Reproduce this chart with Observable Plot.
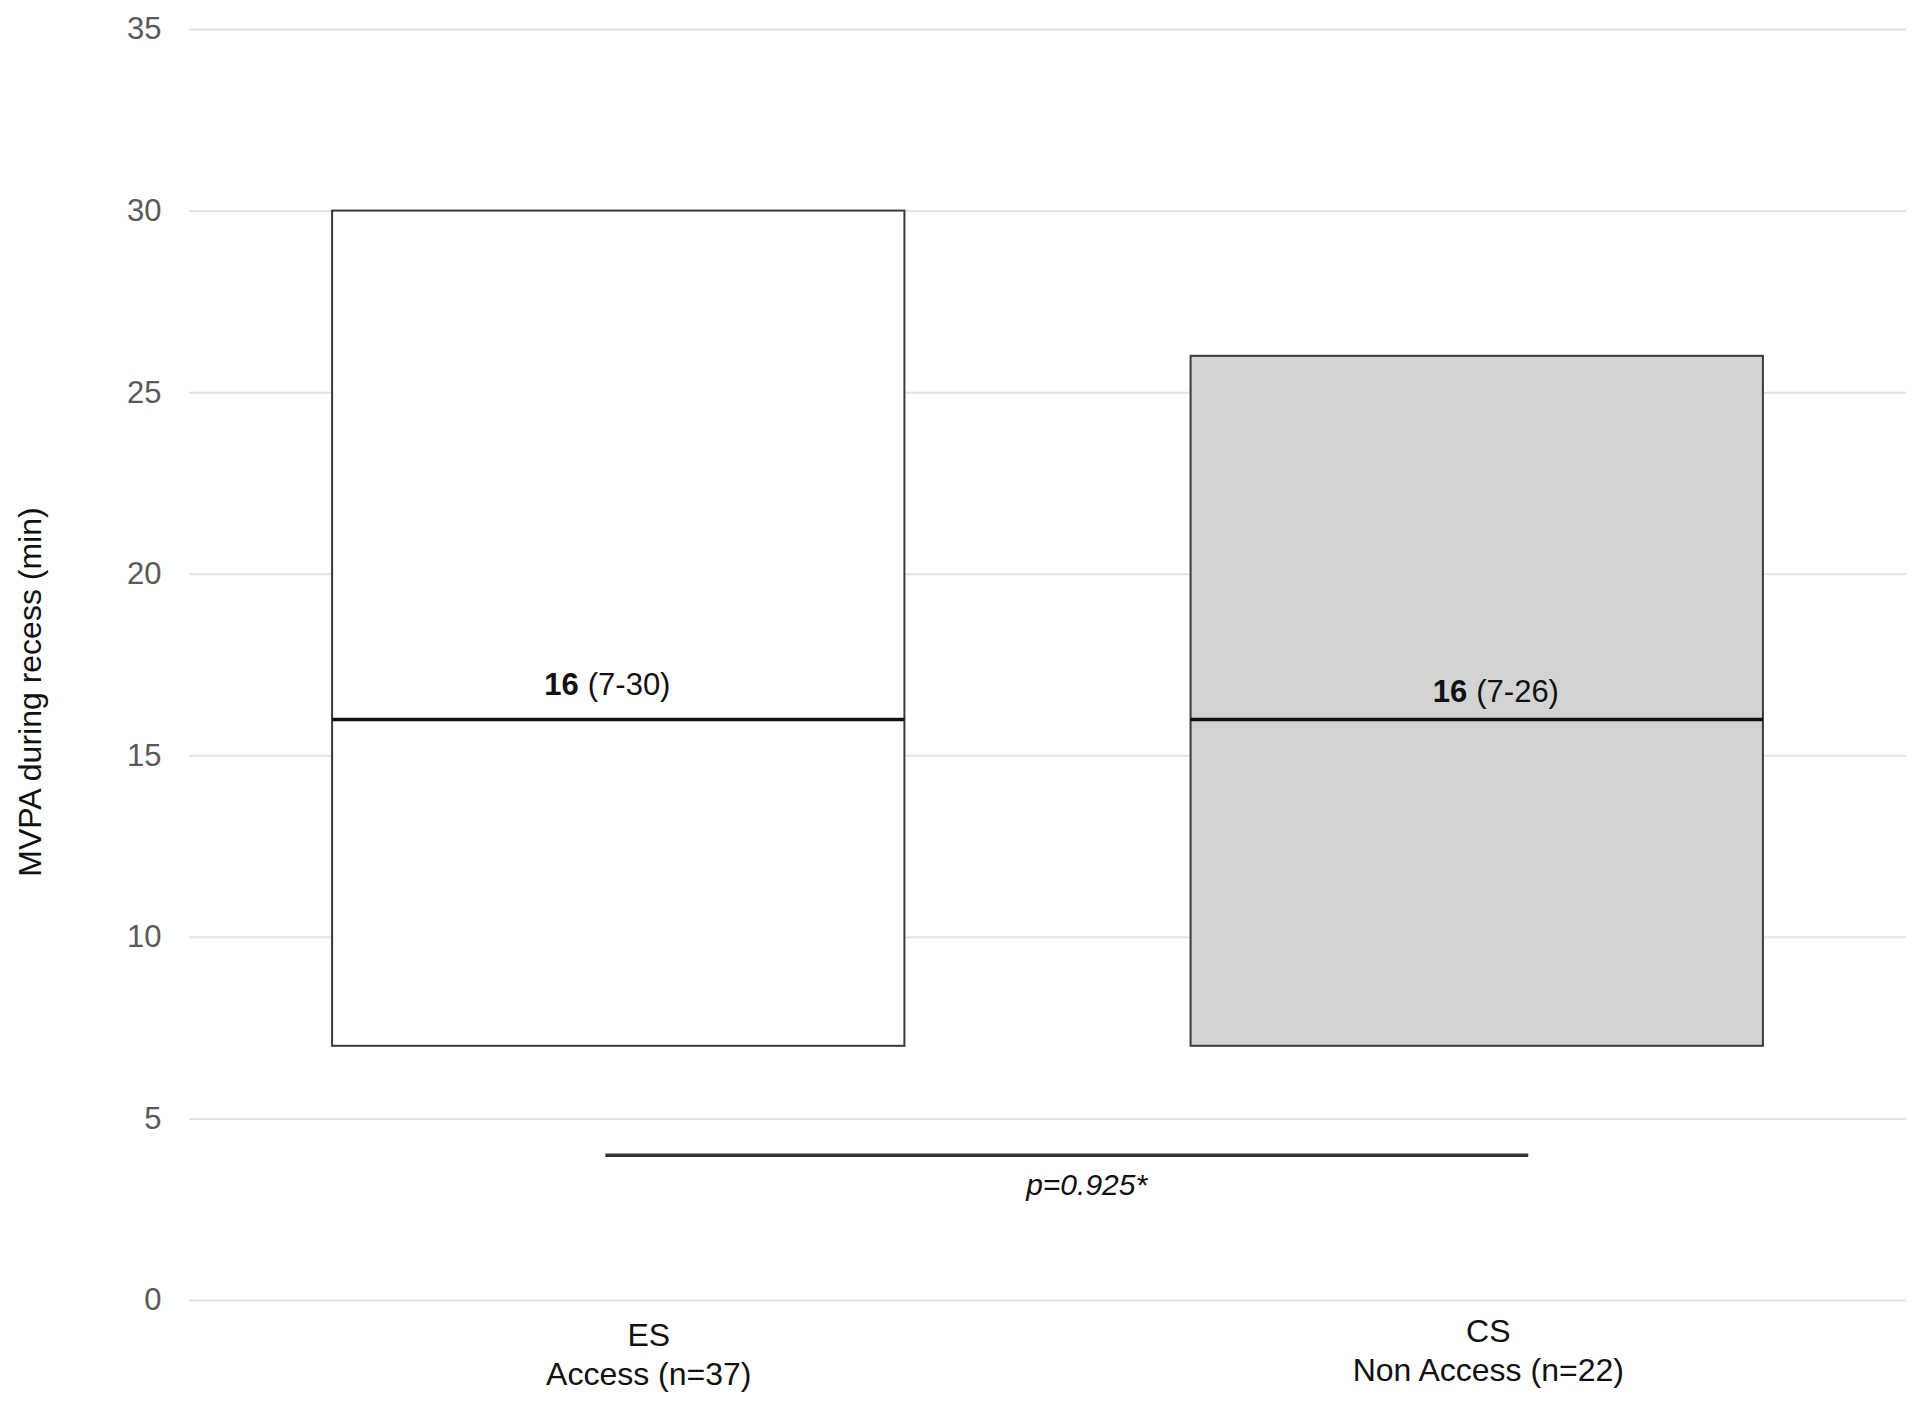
<!DOCTYPE html>
<html>
<head>
<meta charset="utf-8">
<script src="https://cdn.jsdelivr.net/npm/d3@7"></script>
<script src="https://cdn.jsdelivr.net/npm/@observablehq/plot@0.6"></script>
<style>
  html, body { margin: 0; padding: 0; background: #fff; }
  #chart svg { display: block; }
</style>
</head>
<body>
<div id="chart"></div>
<script>
// ---- data ----
const groups = ["ES", "CS"];
const groupSubLabels = ["Access (n=37)", "Non Access (n=22)"];
const medians = [16, 16];
const lows = [7, 7];
const highs = [30, 26];
const yTicks = [0, 5, 10, 15, 20, 25, 30, 35];
const pValueText = "p=0.925*";
const pLineY = 4;
const pLineFrom = 0.985;   // x position (group index units)
const pLineTo = 2.06;
const pTextX = 1.545;
const yLabel = "MVPA during recess (min)";

// ---- build table ----
const rows = groups.map((g, i) => ({
  group: g,
  pos: i + 1,
  label: g + "\n" + groupSubLabels[i],
  median: medians[i],
  low: lows[i],
  high: highs[i],
  range: "(" + lows[i] + "-" + highs[i] + ")"
}));
const half = 1 / 3;
const font = "'Liberation Sans', Arial, sans-serif";
const ES = rows.filter(d => d.group === "ES");
const CS = rows.filter(d => d.group === "CS");

const chart = Plot.plot({
  width: 1924,
  height: 1406,
  marginTop: 29,
  marginBottom: 106,
  marginLeft: 189,
  marginRight: 18,
  style: { fontFamily: font, fontSize: "31px", background: "#fff", overflow: "visible" },
  x: { domain: [0.5, 2.5], axis: null },
  y: { domain: [0, 35], axis: null },
  marks: [
    Plot.gridY(yTicks, { stroke: "#e3e3e3", strokeOpacity: 1, strokeWidth: 2 }),
    Plot.axisY(yTicks, { tickSize: 0, tickPadding: 28, fill: "#595959", fontSize: 31, label: null }),
    // category labels (x axis)
    Plot.text(ES, {
      x: "pos", y: 0, text: "label", lineAnchor: "top", lineHeight: 1.24,
      dx: 30, dy: 17, fill: "#111", fontSize: 32
    }),
    Plot.text(CS, {
      x: "pos", y: 0, text: "label", lineAnchor: "top", lineHeight: 1.24,
      dx: 11, dy: 13, fill: "#111", fontSize: 32
    }),
    Plot.text([yLabel], {
      frameAnchor: "left", textAnchor: "middle", rotate: -90, dx: -159, dy: 27,
      text: d => d, fill: "#111", fontSize: 32
    }),
    Plot.rect(rows, {
      x1: d => d.pos - half, x2: d => d.pos + half,
      y1: "low", y2: "high",
      fill: d => d.group === "CS" ? "#d3d3d3" : "#ffffff",
      stroke: "#3a3a3a", strokeWidth: 2
    }),
    Plot.ruleY(rows, {
      x1: d => d.pos - half, x2: d => d.pos + half,
      y: "median", stroke: "#111", strokeWidth: 3.5
    }),
    // median labels: bold median + regular range
    Plot.text(ES, {
      x: "pos", y: "median", text: d => String(d.median),
      textAnchor: "end", fontWeight: "bold", dx: -40, dy: -34, fill: "#111", fontSize: 31
    }),
    Plot.text(ES, {
      x: "pos", y: "median", text: "range",
      textAnchor: "start", dx: -31, dy: -34, fill: "#111", fontSize: 31
    }),
    Plot.text(CS, {
      x: "pos", y: "median", text: d => String(d.median),
      textAnchor: "end", fontWeight: "bold", dx: -10, dy: -27, fill: "#111", fontSize: 31
    }),
    Plot.text(CS, {
      x: "pos", y: "median", text: "range",
      textAnchor: "start", dx: -1, dy: -27, fill: "#111", fontSize: 31
    }),
    // significance bar
    Plot.ruleY([pLineY], { x1: pLineFrom, x2: pLineTo, stroke: "#333", strokeWidth: 3.5 }),
    Plot.text([pValueText], {
      x: pTextX, y: pLineY, text: d => d, dy: 30,
      fontStyle: "italic", fill: "#111", fontSize: 30
    })
  ]
});
document.getElementById("chart").appendChild(chart);
</script>
</body>
</html>
